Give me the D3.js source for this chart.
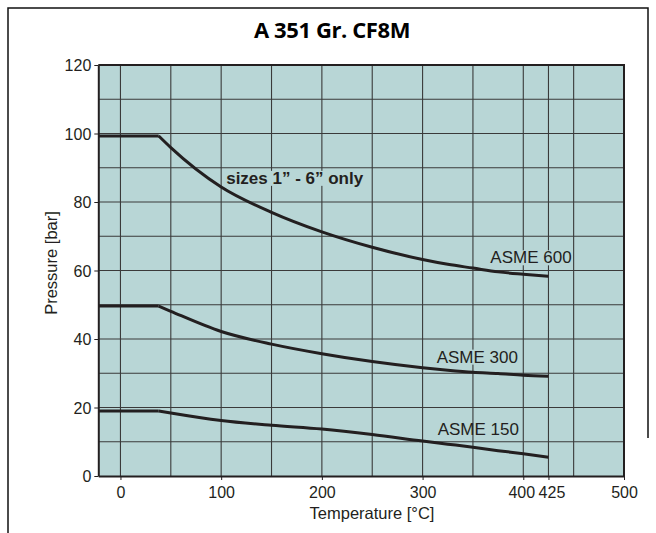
<!DOCTYPE html>
<html><head><meta charset="utf-8">
<script src="https://cdn.jsdelivr.net/npm/d3@7"></script>
<style>html,body{margin:0;padding:0;background:#fff;}svg{display:block;}</style>
</head><body>
<svg id="c" width="656" height="533"></svg>
<script>
const temps = [38, 50, 100, 150, 200, 250, 300, 325, 350, 375, 400, 425];
const asme600 = [99.3, 95.9, 84.4, 77.0, 71.3, 66.8, 63.2, 61.8, 60.7, 59.6, 58.9, 58.3];
const asme300 = [49.6, 48.1, 42.2, 38.5, 35.7, 33.4, 31.6, 30.9, 30.3, 29.9, 29.4, 29.1];
const asme150 = [19.0, 18.4, 16.2, 14.8, 13.7, 12.1, 10.2, 9.3, 8.4, 7.4, 6.5, 5.5];
const xTicks = [0, 100, 200, 300, 400, 425, 500];
const yTicks = [0, 20, 40, 60, 80, 100, 120];
const xGrid = [0, 50, 100, 150, 200, 250, 300, 350, 400, 425, 450];
const yGrid = [10, 20, 30, 40, 50, 60, 70, 80, 90, 100, 110];
const seriesNames = ["ASME 600", "ASME 300", "ASME 150"];
const xMin = -22, xMax = 500, yMin = 0, yMax = 120;

const svg = d3.select("#c");
const x = d3.scaleLinear().domain([xMin, xMax]).range([98.3, 624]);
const y = d3.scaleLinear().domain([yMin, yMax]).range([476, 65]);
const ink = "#231f20";

// outer frame
svg.append("path").attr("d", "M8,533 L8,8 L648,8 L648,438")
  .attr("fill", "none").attr("stroke", "#111").attr("stroke-width", 1.5);

// title
svg.append("text").attr("x", 332).attr("y", 38).attr("text-anchor", "middle")
  .attr("font-family", "Open Sans").attr("font-weight", "bold").attr("font-size", 22)
  .attr("letter-spacing", -0.4)
  .attr("fill", "#000").text("A 351 Gr. CF8M");

// plot background
svg.append("rect").attr("x", x(xMin)).attr("y", y(yMax))
  .attr("width", x(xMax) - x(xMin)).attr("height", y(yMin) - y(yMax))
  .attr("fill", "#b8d6d6");

// grid
const g = svg.append("g");
g.selectAll(".vg").data(xGrid).join("line")
  .attr("x1", d => x(d)).attr("x2", d => x(d)).attr("y1", y(yMin)).attr("y2", y(yMax))
  .attr("stroke", "#3a3a3a").attr("stroke-width", 1.1);
g.selectAll(".hg").data(yGrid).join("line")
  .attr("y1", d => y(d)).attr("y2", d => y(d)).attr("x1", x(xMin)).attr("x2", x(xMax))
  .attr("stroke", "#3a3a3a").attr("stroke-width", 1.1);

const fontLab = "Liberation Sans";

// series
const series = [asme600, asme300, asme150];
const flat = d3.line().x(d => x(d[0])).y(d => y(d[1]));
const curve = d3.line().x(d => x(d[0])).y(d => y(d[1])).curve(d3.curveMonotoneX);
series.forEach(vals => {
  svg.append("path").attr("d", flat([[xMin, vals[0]], [temps[0], vals[0]]]))
    .attr("fill", "none").attr("stroke", ink).attr("stroke-width", 3);
  svg.append("path").attr("d", curve(temps.map((t, i) => [t, vals[i]])))
    .attr("fill", "none").attr("stroke", ink).attr("stroke-width", 3).attr("stroke-linejoin", "round");
});

// labels
function label(txt, xv, yv, anchor, bold, bg) {
  const t = svg.append("text").attr("x", x(xv)).attr("y", y(yv)).attr("text-anchor", anchor)
    .attr("font-family", fontLab).attr("font-size", 17)
    .attr("font-weight", bold ? "bold" : "normal").attr("fill", ink).text(txt);
  if (bg) {
    const b = t.node().getBBox();
    svg.insert("rect", () => t.node()).attr("x", b.x).attr("y", b.y + 2)
      .attr("width", b.width).attr("height", b.height - 4).attr("fill", "#b8d6d6");
  }
}
label("sizes 1\u201d - 6\u201d only", 105, 85.3, "start", true, true);
label(seriesNames[0], 448, 62.1, "end", false, true);
label(seriesNames[1], 314, 33.1, "start", false, true);
label(seriesNames[2], 315, 12.0, "start", false, false);

// axes
const xAxis = svg.append("g").attr("transform", `translate(0,${y(yMin)})`)
  .call(d3.axisBottom(x).tickValues(xTicks).tickSize(4).tickSizeOuter(0).tickFormat(d3.format("d")));
const yAxis = svg.append("g").attr("transform", `translate(${x(xMin)},0)`)
  .call(d3.axisLeft(y).tickValues(yTicks).tickSize(4).tickSizeOuter(0));
[xAxis, yAxis].forEach(a => {
  a.select(".domain").attr("stroke", ink).attr("stroke-width", 2);
  a.selectAll(".tick line").attr("stroke", ink).attr("stroke-width", 1);
  a.selectAll(".tick text").attr("font-family", fontLab).attr("font-size", 16).attr("fill", ink);
});
xAxis.selectAll(".tick text").attr("dy", "0.95em")
  .attr("dx", d => d === 400 ? -2 : (d === 425 ? 3 : 0));
yAxis.selectAll(".tick text").attr("x", -7).attr("dy", "0.35em");

// top and right border
svg.append("path").attr("d", `M${x(xMin)},${y(yMax)} L${x(xMax)},${y(yMax)} L${x(xMax)},${y(yMin)}`)
  .attr("fill", "none").attr("stroke", ink).attr("stroke-width", 2);

// axis titles
svg.append("text").attr("x", 372).attr("y", 519).attr("text-anchor", "middle")
  .attr("font-family", fontLab).attr("font-size", 16.5).attr("fill", ink).text("Temperature [\u00b0C]");
svg.append("text").attr("transform", "translate(57,263) rotate(-90)").attr("text-anchor", "middle")
  .attr("font-family", fontLab).attr("font-size", 16.5).attr("fill", ink).text("Pressure [bar]");
</script>
</body></html>
